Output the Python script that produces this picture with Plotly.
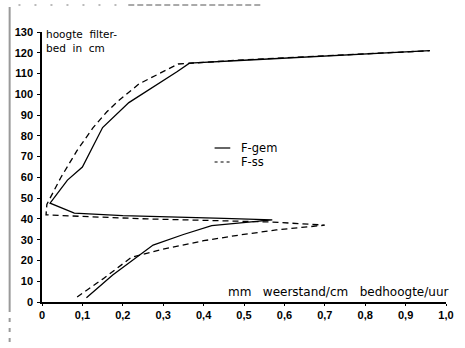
import plotly.graph_objects as go

# F-gem (solid) : resistance (mm/cm bed height/hour) vs height in filter bed (cm)
gem_x = [0.11, 0.175, 0.275, 0.35, 0.42, 0.50, 0.57, 0.45, 0.34, 0.20, 0.08, 0.02, 0.063, 0.10, 0.15, 0.215, 0.335, 0.365, 0.50, 0.70, 0.96]
gem_y = [2, 13, 27.4, 32.5, 36.8, 38.3, 39.5, 40.3, 41, 41.6, 42.8, 47.6, 58.7, 65, 84, 96, 111, 115, 116.4, 118.3, 121]

# F-ss (dashed)
ss_x = [0.087, 0.15, 0.222, 0.30, 0.40, 0.48, 0.58, 0.70, 0.57, 0.40, 0.26, 0.10, 0.01, 0.012, 0.046, 0.087, 0.126, 0.16, 0.19, 0.24, 0.337, 0.50, 0.70, 0.96]
ss_y = [2.4, 11, 21.6, 25.5, 29.5, 32, 34.7, 37, 38.5, 39.3, 40, 41.2, 42, 47, 59.7, 73, 83.8, 91.5, 97, 105, 114.6, 116.6, 118.4, 121]

x_ticks = [0, 0.1, 0.2, 0.3, 0.4, 0.5, 0.6, 0.7, 0.8, 0.9, 1.0]
x_labels = ["0", "0,1", "0,2", "0,3", "0,4", "0,5", "0,6", "0,7", "0,8", "0,9", "1,0"]
y_ticks = [0, 10, 20, 30, 40, 50, 60, 70, 80, 90, 100, 110, 120, 130]
y_labels = [str(v) for v in y_ticks]

FONT = "Liberation Sans"
TFONT = "DejaVu Sans"

fig = go.Figure()
fig.add_trace(go.Scatter(x=gem_x, y=gem_y, mode="lines", name="F-gem",
                         line=dict(color="black", width=1.3), showlegend=False))
fig.add_trace(go.Scatter(x=ss_x, y=ss_y, mode="lines", name="F-ss",
                         line=dict(color="black", width=1.3, dash="6px,4px"), showlegend=False))

L, R, T, B = 42, 11, 32, 46
W, H = 465, 348
pw, ph = W - L - R, H - T - B

def px(x):
    return (x - L) / pw

def py(y):
    return (H - B - y) / ph

tickfont = dict(size=11, family=FONT, weight="bold")

fig.update_layout(
    width=W, height=H,
    margin=dict(l=L, r=R, t=T, b=B),
    paper_bgcolor="white", plot_bgcolor="white",
    font=dict(family=FONT, color="black", size=11),
    xaxis=dict(range=[0, 1], tickvals=x_ticks, ticktext=x_labels, showgrid=False, zeroline=False,
               showline=True, linecolor="black", linewidth=1.5, ticks="outside", ticklen=2,
               tickcolor="black", tickfont=tickfont),
    yaxis=dict(range=[0, 130], tickvals=y_ticks, ticktext=y_labels, showgrid=False, zeroline=False,
               showline=True, linecolor="black", linewidth=1.5, ticks="outside", ticklen=3,
               tickcolor="black", tickfont=tickfont, ticklabelstandoff=2),
    showlegend=False,
)

annotations = [
    dict(x=px(44), y=py(26), xref="paper", yref="paper", xanchor="left", yanchor="top",
         text="hoogte  filter-<br>bed  in  cm", showarrow=False, align="left",
         font=dict(size=10.5, family=TFONT)),
    dict(x=px(459), y=py(301), xref="paper", yref="paper", xanchor="right", yanchor="bottom",
         text="mm   weerstand/cm   bedhoogte/uur", showarrow=False,
         font=dict(size=12, family=TFONT)),
    dict(x=px(243), y=py(148), xref="paper", yref="paper", xanchor="left", yanchor="middle",
         text="F-gem", showarrow=False, font=dict(size=11.5, family=TFONT)),
    dict(x=px(243), y=py(162), xref="paper", yref="paper", xanchor="left", yanchor="middle",
         text="F-ss", showarrow=False, font=dict(size=11.5, family=TFONT)),
]
fig.update_layout(annotations=annotations)

shapes = [
    # legend samples
    dict(type="line", xref="paper", yref="paper", x0=px(218), x1=px(234), y0=py(148), y1=py(148),
         line=dict(color="black", width=1.2)),
    dict(type="line", xref="paper", yref="paper", x0=px(218), x1=px(234), y0=py(162), y1=py(162),
         line=dict(color="black", width=1.2, dash="3px,3px")),
    # scan border artifacts
    dict(type="line", xref="paper", yref="paper", x0=px(9), x1=px(9), y0=py(7), y1=py(312),
         line=dict(color="#9a9a9a", width=2)),
    dict(type="line", xref="paper", yref="paper", x0=px(9), x1=px(9), y0=py(318), y1=py(348),
         line=dict(color="#9a9a9a", width=2, dash="4px,6px")),
    dict(type="line", xref="paper", yref="paper", x0=px(130), x1=px(266), y0=py(5), y1=py(5),
         line=dict(color="#555555", width=1, dash="6px,3px")),
    dict(type="line", xref="paper", yref="paper", x0=px(18), x1=px(120), y0=py(5), y1=py(5),
         line=dict(color="#777777", width=1, dash="2px,14px")),
]
fig.update_layout(shapes=shapes)

fig.write_html("out.html")
